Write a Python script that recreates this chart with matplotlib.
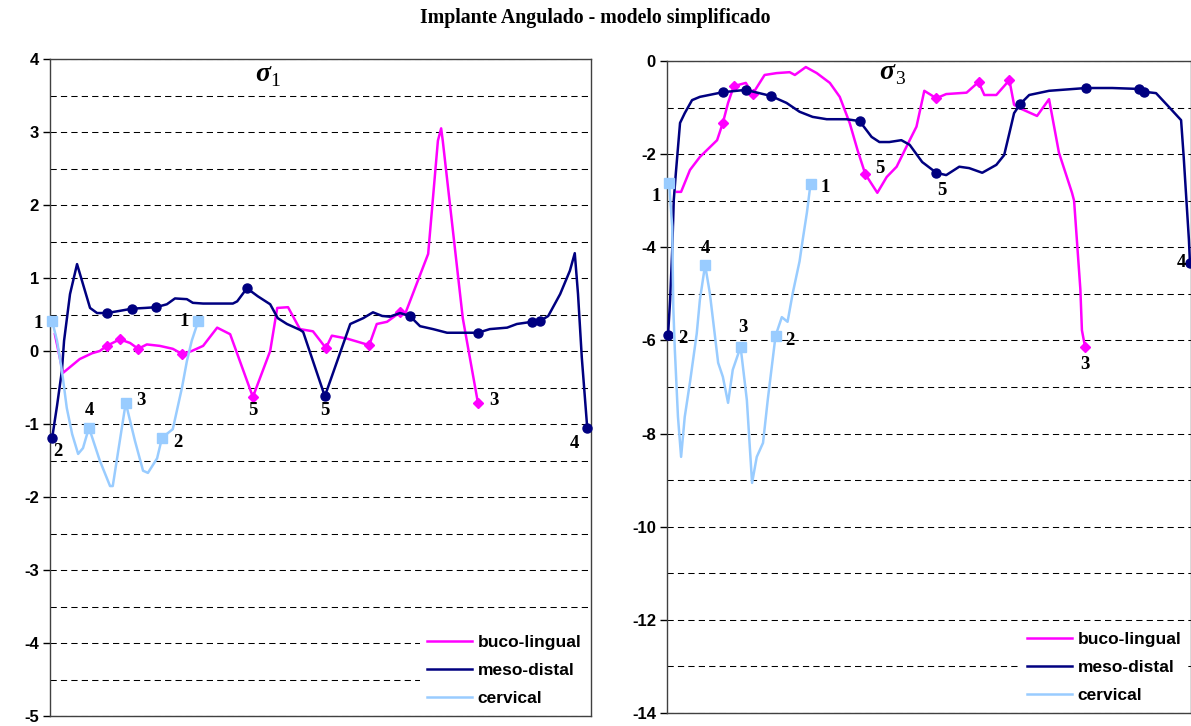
import matplotlib.pyplot as plt
from matplotlib.ticker import MultipleLocator

plt.rcParams['axes.unicode_minus'] = False

# ---- sigma 1 (left) ----
s1_buco_x = [0.9, 2.4, 5.5, 7.8, 9.2, 10.5, 12.9, 14.8, 16.3, 17.9, 20.3, 22.7, 24.4, 26.2, 28.3, 30.9,
             33.3, 37.5, 40.7, 42.0, 44.0, 46.2, 48.6, 51.0, 52.1, 54.9, 59.0, 60.4, 62.3, 64.7, 65.6,
             69.9, 71.7, 72.3, 72.6, 76.3, 79.1]
s1_buco_y = [0.23, -0.30, -0.11, -0.03, 0.0, 0.07, 0.16, 0.11, 0.03, 0.09, 0.07, 0.03, -0.04, 0.0, 0.07,
             0.32, 0.23, -0.63, 0.0, 0.59, 0.60, 0.30, 0.27, 0.04, 0.21, 0.17, 0.08, 0.37, 0.40, 0.53,
             0.50, 1.33, 2.88, 3.05, 2.88, 0.45, -0.71]
s1_buco_mk = [5, 6, 8, 12, 17, 23, 26, 29, 36]

s1_meso_x = [0.4, 1.3, 2.2, 2.6, 3.7, 5.0, 7.4, 8.7, 10.5, 12.9, 15.2, 17.6, 19.6, 21.6, 23.1, 25.3, 26.4,
             28.3, 33.8, 34.6, 36.4, 38.4, 40.7, 42.1, 43.8, 46.2, 46.8, 50.8, 55.5, 57.9, 59.7, 61.4,
             62.8, 64.7, 66.5, 68.4, 70.8, 73.4, 79.1, 81.3, 84.5, 86.3, 89.1, 90.6, 92.1, 94.3, 96.1,
             97.0, 97.6, 98.3, 99.3]
s1_meso_y = [-1.19, -0.75, -0.27, 0.14, 0.78, 1.19, 0.59, 0.52, 0.52, 0.55, 0.58, 0.59, 0.60, 0.64, 0.72,
             0.71, 0.66, 0.65, 0.65, 0.68, 0.86, 0.75, 0.64, 0.45, 0.37, 0.29, 0.26, -0.62, 0.37, 0.45,
             0.53, 0.48, 0.47, 0.52, 0.48, 0.34, 0.30, 0.25, 0.25, 0.30, 0.32, 0.37, 0.40, 0.41, 0.48,
             0.78, 1.10, 1.34, 0.78, -0.09, -1.05]
s1_meso_mk = [0, 8, 10, 12, 20, 27, 34, 38, 42, 43, 50]

s1_cerv_x = [0.4, 1.3, 2.2, 3.1, 4.1, 5.2, 6.1, 7.2, 9.2, 11.1, 11.6, 14.0, 15.7, 17.2, 18.1, 19.8, 20.7,
             22.7, 24.4, 25.3, 26.2, 27.4]
s1_cerv_y = [0.41, 0.14, -0.27, -0.78, -1.14, -1.41, -1.33, -1.05, -1.50, -1.85, -1.85, -0.71, -1.23,
             -1.64, -1.67, -1.47, -1.19, -1.07, -0.50, -0.14, 0.14, 0.41]
s1_cerv_mk = [0, 7, 11, 16, 21]

s1_labels = ['1', '2', '4', '3', '2', '1', '5', '5', '3', '4']
s1_lab_x = [-2.2, 1.5, 7.2, 16.8, 23.7, 24.8, 37.5, 50.8, 82.1, 97.0]
s1_lab_y = [0.38, -1.38, -0.81, -0.68, -1.26, 0.41, -0.82, -0.82, -0.68, -1.27]

# ---- sigma 3 (right) ----
s3_buco_x = [1.9, 2.7, 4.4, 6.3, 9.6, 10.7, 11.7, 12.8, 15.1, 16.4, 18.7, 21.0, 23.5, 24.5, 26.6, 28.7,
             31.2, 33.1, 35.0, 36.5, 38.0, 40.3, 42.1, 44.0, 46.5, 47.8, 49.3, 51.6, 53.5, 57.4, 59.7,
             60.8, 63.1, 65.6, 66.5, 67.5, 70.9, 73.2, 75.1, 77.6, 78.0, 78.6, 79.2, 79.5, 80.1]
s3_buco_y = [-2.81, -2.81, -2.34, -2.06, -1.7, -1.33, -0.9, -0.54, -0.47, -0.71, -0.3, -0.26, -0.24, -0.3,
             -0.13, -0.26, -0.47, -0.77, -1.33, -1.91, -2.43, -2.83, -2.49, -2.27, -1.7, -1.41, -0.64,
             -0.8, -0.71, -0.68, -0.45, -0.73, -0.73, -0.41, -0.94, -1.01, -1.18, -0.82, -1.97, -2.83,
             -3.0, -3.95, -4.9, -5.78, -6.14]
s3_buco_mk = [5, 7, 9, 20, 27, 30, 33, 44]

s3_meso_x = [0.2, 0.6, 1.0, 1.3, 1.7, 2.5, 3.4, 4.8, 6.3, 10.7, 15.1, 19.9, 22.9, 25.4, 27.9, 30.6, 34.4,
             36.9, 39.2, 40.7, 42.6, 44.9, 46.5, 48.9, 51.6, 53.5, 56.0, 57.9, 60.4, 63.1, 64.6, 65.6,
             66.5, 67.7, 69.4, 73.2, 80.3, 85.3, 90.4, 91.4, 93.7, 96.2, 98.5, 99.0, 99.6, 100.0, 100.2]
s3_meso_y = [-5.88, -5.13, -4.06, -2.98, -2.4, -1.33, -1.12, -0.84, -0.77, -0.67, -0.62, -0.75, -0.9,
             -1.09, -1.2, -1.25, -1.25, -1.29, -1.63, -1.74, -1.74, -1.7, -1.8, -2.17, -2.4, -2.45,
             -2.27, -2.3, -2.4, -2.23, -2.02, -1.55, -1.12, -0.92, -0.73, -0.64, -0.58, -0.58, -0.6,
             -0.66, -0.69, -0.99, -1.27, -2.06, -3.13, -3.84, -4.34]
s3_meso_mk = [0, 9, 10, 11, 17, 24, 33, 36, 38, 39, 46]

s3_cerv_x = [0.4, 1.0, 1.2, 1.5, 2.1, 2.7, 3.4, 4.4, 5.7, 6.3, 7.3, 8.2, 9.8, 10.7, 11.7, 12.6, 14.1, 15.3,
             16.3, 17.2, 18.4, 19.3, 20.8, 22.0, 23.1, 24.1, 25.4, 26.0, 26.8, 27.5]
s3_cerv_y = [-2.62, -3.56, -5.28, -6.2, -7.64, -8.5, -7.64, -6.9, -5.85, -5.13, -4.38, -4.98, -6.48,
             -6.78, -7.34, -6.63, -6.14, -7.28, -9.06, -8.5, -8.2, -7.28, -5.9, -5.5, -5.6, -4.98, -4.3,
             -3.84, -3.26, -2.64]
s3_cerv_mk = [0, 10, 16, 22, 29]

s3_labels = ['1', '2', '4', '3', '2', '1', '5', '5', '3', '4']
s3_lab_x = [-2.1, 3.1, 7.3, 14.5, 23.5, 30.4, 40.7, 52.6, 80.1, 98.5]
s3_lab_y = [-2.92, -5.95, -4.02, -5.73, -6.01, -2.71, -2.30, -2.77, -6.51, -4.32]

series_names = ['buco-lingual', 'meso-distal', 'cervical']
colors = ['#FF00FF', '#000080', '#99CCFF']
markers = ['D', 'o', 's']

fig = plt.figure(figsize=(11.91, 7.26), dpi=100)
fig.text(0.5, 1 - 18 / 726, 'Implante Angulado - modelo simplificado', ha='center', va='center',
         family='Liberation Serif', fontweight='bold', fontsize=14.3)

ax1 = fig.add_axes([50 / 1191, 1 - 716 / 726, 541 / 1191, 657 / 726])
ax2 = fig.add_axes([667 / 1191, 1 - 713 / 726, 524 / 1191, 652 / 726])


def draw(ax, data, labels, lab_x, lab_y, ylim, major, minor, xmax, sig, sub, sig_xy, legend_anchor):
    for (xs, ys, mk), name, c, m in zip(data, series_names, colors, markers):
        ms = {'D': 5.5, 'o': 6.5, 's': 7}[m]
        ax.plot(xs, ys, color=c, lw=1.8, marker=m, markevery=mk, ms=ms, label=name,
                clip_on=False, zorder=3)
    for t, x, y in zip(labels, lab_x, lab_y):
        ax.text(x, y, t, ha='center', va='center', family='Liberation Serif',
                fontweight='bold', fontsize=13.5, zorder=4)
    ax.set_xlim(0, xmax)
    ax.set_ylim(*ylim)
    ax.set_xticks([])
    ax.yaxis.set_major_locator(MultipleLocator(major))
    ax.yaxis.set_minor_locator(MultipleLocator(minor))
    ax.grid(which='both', axis='y', color='black', lw=0.75, linestyle=(0, (6, 4)))
    ax.tick_params(axis='y', which='major', length=5, width=1, pad=3, labelsize=12)
    ax.tick_params(axis='y', which='minor', length=0)
    for lbl in ax.get_yticklabels():
        lbl.set_fontweight('bold')
        lbl.set_family('Liberation Sans')
    for sp in ax.spines.values():
        sp.set_color('#404040')
        sp.set_linewidth(1)
    ax.text(sig_xy[0], sig_xy[1], sig, transform=ax.transAxes, family='Liberation Serif',
            fontweight='bold', style='italic', fontsize=20, ha='center', va='center')
    ax.text(sig_xy[0] + 0.024, sig_xy[1] - 0.012, sub, transform=ax.transAxes,
            family='Liberation Serif', fontsize=14, ha='center', va='center')
    leg = ax.legend(loc='lower right', bbox_to_anchor=legend_anchor, frameon=True, fancybox=False,
                    edgecolor='none', facecolor='white', framealpha=1, handlelength=2.6,
                    handletextpad=0.3, labelspacing=0.75, borderaxespad=0.15,
                    prop={'family': 'Liberation Sans', 'weight': 'bold', 'size': 12.5})
    for h in leg.legend_handles:
        h.set_marker('')


draw(ax1, [(s1_buco_x, s1_buco_y, s1_buco_mk), (s1_meso_x, s1_meso_y, s1_meso_mk),
           (s1_cerv_x, s1_cerv_y, s1_cerv_mk)],
     s1_labels, s1_lab_x, s1_lab_y, (-5, 4), 1, 0.5, 100, 'σ', '1', (0.393, 0.977), (1.0, 0.0))
draw(ax2, [(s3_buco_x, s3_buco_y, s3_buco_mk), (s3_meso_x, s3_meso_y, s3_meso_mk),
           (s3_cerv_x, s3_cerv_y, s3_cerv_mk)],
     s3_labels, s3_lab_x, s3_lab_y, (-14, 0), 2, 1, 100.4, 'σ', '3', (0.42, 0.983), (1.0, 0.0))

fig.savefig('out.png', dpi=100)
